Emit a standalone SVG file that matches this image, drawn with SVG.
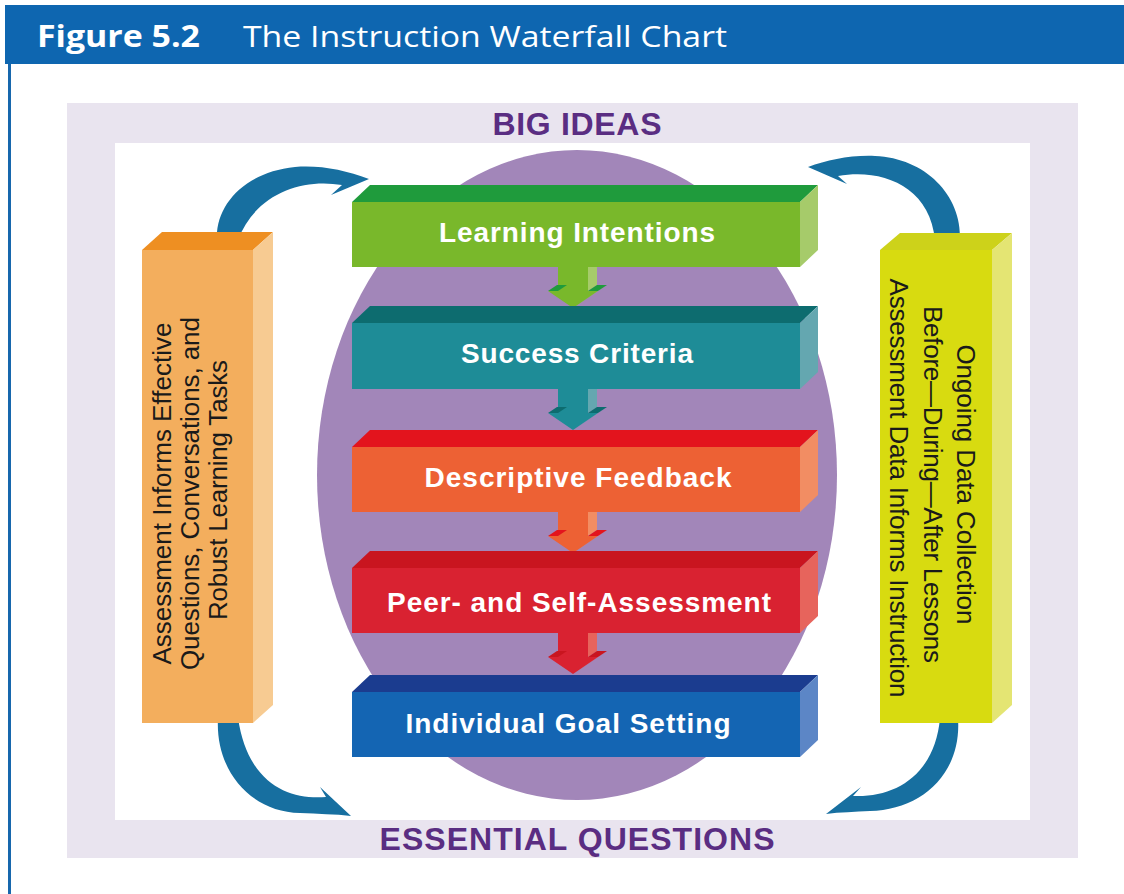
<svg xmlns="http://www.w3.org/2000/svg" width="1124" height="894" viewBox="0 0 1124 894">
  <style>
    .hdr { font-family: "Open Sans", "Liberation Sans", sans-serif; fill: #ffffff; font-size: 30px; }
    .band { font-family: "Liberation Sans", Arial, sans-serif; font-weight: bold; fill: #5a2d82; font-size: 32px; text-anchor: middle; }
    .lbl { font-family: "Liberation Sans", Arial, sans-serif; font-weight: bold; fill: #ffffff; font-size: 28px; text-anchor: middle; }
    .side-txt { font-family: "Liberation Sans", Arial, sans-serif; fill: #1a1a1a; font-size: 26px; text-anchor: middle; }
    .loop { fill: #176fa0; }
    /* palette: t = top face, f = front face, s = side face */
    .g-t { fill: #1f9b3c; } .g-f { fill: #79b82b; } .g-s { fill: #a6cb6a; }
    .c-t { fill: #0d6c6f; } .c-f { fill: #1e8c97; } .c-s { fill: #64a7b0; }
    .o-t { fill: #e3141d; } .o-f { fill: #ed6134; } .o-s { fill: #f28d63; }
    .r-t { fill: #c9151f; } .r-f { fill: #d92231; } .r-s { fill: #e7645c; }
    .b-t { fill: #1b3c8f; } .b-f { fill: #1465b3; } .b-s { fill: #5c86c6; }
    .p-t { fill: #ee8f22; } .p-f { fill: #f3ae5d; } .p-s { fill: #f7cb92; }
    .y-t { fill: #cdd21a; } .y-f { fill: #d8db10; } .y-s { fill: #e4e573; }
  </style>

  <!-- page background -->
  <rect x="0" y="0" width="1124" height="894" fill="#ffffff"/>

  <!-- title bar -->
  <g id="title">
    <rect x="5" y="5" width="1119" height="59" fill="#0e66b0"/>
    <rect x="8" y="64" width="3" height="830" fill="#1767ad"/>
    <text class="hdr" x="37" y="47" font-weight="bold" textLength="163" lengthAdjust="spacingAndGlyphs">Figure 5.2</text>
    <text class="hdr" x="243" y="47" textLength="484" lengthAdjust="spacingAndGlyphs">The Instruction Waterfall Chart</text>
  </g>

  <!-- lavender frame -->
  <g id="frame">
    <rect x="67" y="103" width="1011" height="755" fill="#e9e4ef"/>
    <rect x="115" y="143" width="915" height="677" fill="#ffffff"/>
    <text class="band" x="577" y="135" textLength="169">BIG IDEAS</text>
    <text class="band" x="577" y="850" textLength="395">ESSENTIAL QUESTIONS</text>
  </g>

  <!-- central oval -->
  <ellipse id="oval" cx="577" cy="475" rx="260" ry="325" fill="#a286b9"/>

  <!-- connectors -->
  <g id="connectors">
    <!-- curved loops -->
    <path class="loop" d="M217,240 C215,205 245,172 295,167 C320,165 345,170 369,179 L331,195 L342,185 C300,178 255,195 238,240 Z"/>
    <path class="loop" d="M960,240 C962,195 925,158 875,156 C850,155 828,160 808,167 L847,184 L838,176 C880,168 930,185 935,240 Z"/>
    <path class="loop" d="M218,718 C215,770 250,812 300,813 C318,814 335,814 351,816 L320,787 L326,797 C290,800 248,785 238,718 Z"/>
    <path class="loop" d="M958,718 C962,775 920,810 870,811 C855,812 840,812 826,814 L861,787 L853,796 C895,798 935,775 940,718 Z"/>

    <!-- down arrows between steps -->
    <g transform="translate(0,267)">
      <rect class="g-f" x="558" y="-1" width="30" height="25"/>
      <polygon class="g-s" points="588,-1 597,-1 597,18 588,24"/>
      <polygon class="g-f" points="548,24 598,24 573,41"/>
      <polygon class="g-t" points="548,24 557,18 567,18 558,24"/>
      <polygon class="g-t" points="588,24 597,18 607,18 598,24"/>
      <polygon class="g-s" points="598,24 607,18 582,35 573,41"/>
    </g>
    <g transform="translate(0,389)">
      <rect class="c-f" x="558" y="-1" width="30" height="25"/>
      <polygon class="c-s" points="588,-1 597,-1 597,18 588,24"/>
      <polygon class="c-f" points="548,24 598,24 573,41"/>
      <polygon class="c-t" points="548,24 557,18 567,18 558,24"/>
      <polygon class="c-t" points="588,24 597,18 607,18 598,24"/>
      <polygon class="c-s" points="598,24 607,18 582,35 573,41"/>
    </g>
    <g transform="translate(0,512)">
      <rect class="o-f" x="558" y="-1" width="30" height="25"/>
      <polygon class="o-s" points="588,-1 597,-1 597,18 588,24"/>
      <polygon class="o-f" points="548,24 598,24 573,41"/>
      <polygon class="o-t" points="548,24 557,18 567,18 558,24"/>
      <polygon class="o-t" points="588,24 597,18 607,18 598,24"/>
      <polygon class="o-s" points="598,24 607,18 582,35 573,41"/>
    </g>
    <g transform="translate(0,633)">
      <rect class="r-f" x="558" y="-1" width="30" height="25"/>
      <polygon class="r-s" points="588,-1 597,-1 597,18 588,24"/>
      <polygon class="r-f" points="548,24 598,24 573,41"/>
      <polygon class="r-t" points="548,24 557,18 567,18 558,24"/>
      <polygon class="r-t" points="588,24 597,18 607,18 598,24"/>
      <polygon class="r-s" points="598,24 607,18 582,35 573,41"/>
    </g>
  </g>

  <!-- step blocks: front 352..800, depth offset (18,-17) -->
  <g id="learning-intentions">
    <polygon class="g-t" points="352,202 370,185 818,185 800,202"/>
    <polygon class="g-s" points="800,202 818,185 818,250 800,267"/>
    <rect class="g-f" x="352" y="202" width="448" height="65"/>
    <text class="lbl" x="577" y="242" textLength="276">Learning Intentions</text>
  </g>
  <g id="success-criteria">
    <polygon class="c-t" points="352,323 370,306 818,306 800,323"/>
    <polygon class="c-s" points="800,323 818,306 818,372 800,389"/>
    <rect class="c-f" x="352" y="323" width="448" height="66"/>
    <text class="lbl" x="577" y="363" textLength="232">Success Criteria</text>
  </g>
  <g id="descriptive-feedback">
    <polygon class="o-t" points="352,447 370,430 818,430 800,447"/>
    <polygon class="o-s" points="800,447 818,430 818,495 800,512"/>
    <rect class="o-f" x="352" y="447" width="448" height="65"/>
    <text class="lbl" x="578" y="487" textLength="307">Descriptive Feedback</text>
  </g>
  <g id="peer-self-assessment">
    <polygon class="r-t" points="352,568 370,551 818,551 800,568"/>
    <polygon class="r-s" points="800,568 818,551 818,616 800,633"/>
    <rect class="r-f" x="352" y="568" width="448" height="65"/>
    <text class="lbl" x="579" y="612" textLength="384">Peer- and Self-Assessment</text>
  </g>
  <g id="individual-goal-setting">
    <polygon class="b-t" points="352,692 370,675 818,675 800,692"/>
    <polygon class="b-s" points="800,692 818,675 818,740 800,757"/>
    <rect class="b-f" x="352" y="692" width="448" height="65"/>
    <text class="lbl" x="568" y="733" textLength="325">Individual Goal Setting</text>
  </g>

  <!-- side pillars -->
  <g id="assessment-pillar">
    <polygon class="p-t" points="142,250 162,232 273,232 253,250"/>
    <polygon class="p-s" points="253,250 273,232 273,705 253,723"/>
    <rect class="p-f" x="142" y="250" width="111" height="473"/>
    <text class="side-txt" transform="translate(171,490) rotate(-90)">
      <tspan x="0" y="0" textLength="342">Assessment Informs Effective</tspan>
      <tspan x="0" y="28" textLength="353">Questions, Conversations, and</tspan>
      <tspan x="0" y="56" textLength="260">Robust Learning Tasks</tspan>
    </text>
  </g>
  <g id="data-pillar">
    <polygon class="y-t" points="880,250 900,233 1012,233 992,250"/>
    <polygon class="y-s" points="992,250 1012,233 1012,705 992,723"/>
    <rect class="y-f" x="880" y="250" width="112" height="473"/>
    <text class="side-txt" transform="translate(957,488) rotate(90)">
      <tspan x="0" y="0" textLength="280">Ongoing Data Collection</tspan>
      <tspan x="0" y="33" textLength="357">Before—During—After Lessons</tspan>
      <tspan x="0" y="67" textLength="419">Assessment Data Informs Instruction</tspan>
    </text>
  </g>
</svg>
